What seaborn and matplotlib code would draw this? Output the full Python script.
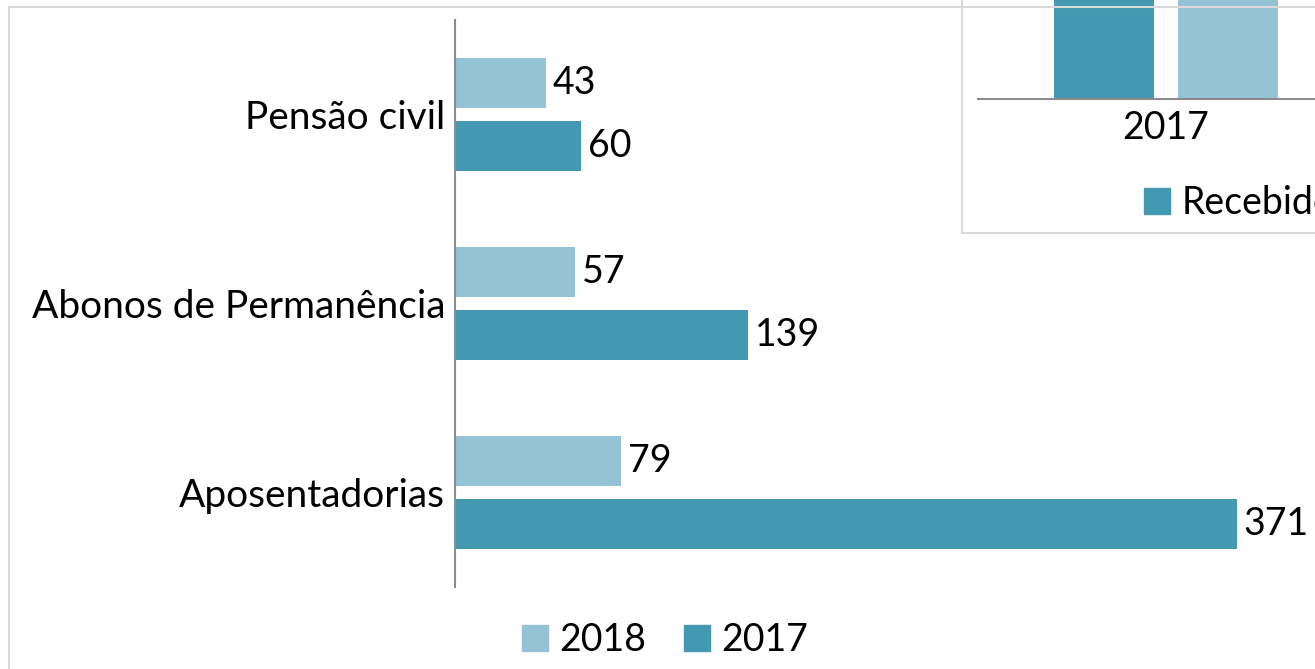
import numpy as np
import pandas as pd
import matplotlib.pyplot as plt
import seaborn as sns
from matplotlib.patches import Rectangle, Patch

# Dados do gráfico principal
categorias = ['Pensão civil', 'Abonos de Permanência', 'Aposentadorias']
valores_2018 = [43, 57, 79]
valores_2017 = [60, 139, 371]
anos = ['2018', '2017']

# Dados do gráfico vizinho (cortado no canto superior direito)
inset_anos = ['2017']
inset_recebidos = [520]
inset_outros = [515]

cor_clara = '#93C3D4'
cor_escura = '#4399B1'
cor_borda = '#D9D9D9'

sns.set_style('white')
plt.rcParams['font.family'] = ['Lato', 'DejaVu Sans']
plt.rcParams['text.color'] = 'black'
plt.rcParams['xtick.color'] = 'black'
plt.rcParams['ytick.color'] = 'black'

W, H = 1315, 669
fig = plt.figure(figsize=(W / 100, H / 100), dpi=100)

# Moldura do gráfico principal
fig.patches.append(Rectangle((9 / W, -0.1), 2.0, (H - 7) / H + 0.1,
                             transform=fig.transFigure, fill=False,
                             edgecolor=cor_borda, linewidth=1.5))

df = pd.DataFrame({
    'categoria': categorias * 2,
    'ano': ['2018'] * 3 + ['2017'] * 3,
    'valor': valores_2018 + valores_2017,
})

ax = fig.add_axes([455 / W, (H - 587) / H, 843 / W, 567 / H])
sns.barplot(data=df, x='valor', y='categoria', hue='ano', hue_order=anos,
            palette=[cor_clara, cor_escura], saturation=1, width=0.667, gap=0.206,
            orient='h', legend=False, linewidth=0, ax=ax)
ax.set_xlim(0, 400)
ax.set_ylim(2.5, -0.5)
ax.set_xlabel('')
ax.set_ylabel('')
ax.set_xticks([])
ax.tick_params(axis='y', length=0, pad=7, labelsize=28)
for s in ['top', 'right', 'bottom']:
    ax.spines[s].set_visible(False)
ax.spines['left'].set_color('#8C8C8C')
ax.spines['left'].set_linewidth(1.5)
ax.patch.set_alpha(0)
for c in ax.containers:
    ax.bar_label(c, padding=5, fontsize=27, color='black')

fig.legend(handles=[Patch(color=cor_clara, label='2018'),
                    Patch(color=cor_escura, label='2017')],
           loc='center', bbox_to_anchor=(665 / W, 1 - 640 / H), ncol=2,
           frameon=False, fontsize=27, handlelength=0.7, handleheight=0.7,
           handletextpad=0.3, columnspacing=1.0, borderpad=0, borderaxespad=0)

# Caixa do gráfico vizinho
box = fig.add_axes([962 / W, (H - 233) / H, 400 / W, 300 / H])
box.set_xticks([])
box.set_yticks([])
for s in ['top', 'right']:
    box.spines[s].set_visible(False)
for s in ['left', 'bottom']:
    box.spines[s].set_color(cor_borda)
    box.spines[s].set_linewidth(1.5)
box.set_facecolor('white')

df_in = pd.DataFrame({
    'ano': inset_anos * 2,
    'serie': ['Recebidos'] * len(inset_anos) + ['Outros'] * len(inset_anos),
    'valor': inset_recebidos + inset_outros,
})
ax2 = fig.add_axes([978 / W, (H - 99) / H, 376 / W, 200 / H])
sns.barplot(data=df_in, x='ano', y='valor', hue='serie',
            hue_order=['Recebidos', 'Outros'],
            palette=[cor_escura, cor_clara], saturation=1, width=0.66, gap=0.19,
            legend=False, linewidth=0, ax=ax2)
ax2.set_xlim(-0.5, 0.5)
ax2.set_ylim(0, 300)
ax2.set_xlabel('')
ax2.set_ylabel('')
ax2.set_yticks([])
ax2.tick_params(axis='x', length=0, pad=8, labelsize=27)
for s in ['top', 'right', 'left']:
    ax2.spines[s].set_visible(False)
ax2.spines['bottom'].set_color('#8C8C8C')
ax2.spines['bottom'].set_linewidth(1.5)
ax2.patch.set_alpha(0)

fig.legend(handles=[Patch(color=cor_escura, label='Recebidos')],
           loc='center left', bbox_to_anchor=(1144 / W, 1 - 203 / H),
           frameon=False, fontsize=27, handlelength=0.7, handleheight=0.7,
           handletextpad=0.3, borderpad=0, borderaxespad=0)

fig.savefig('out.png', dpi=100)
